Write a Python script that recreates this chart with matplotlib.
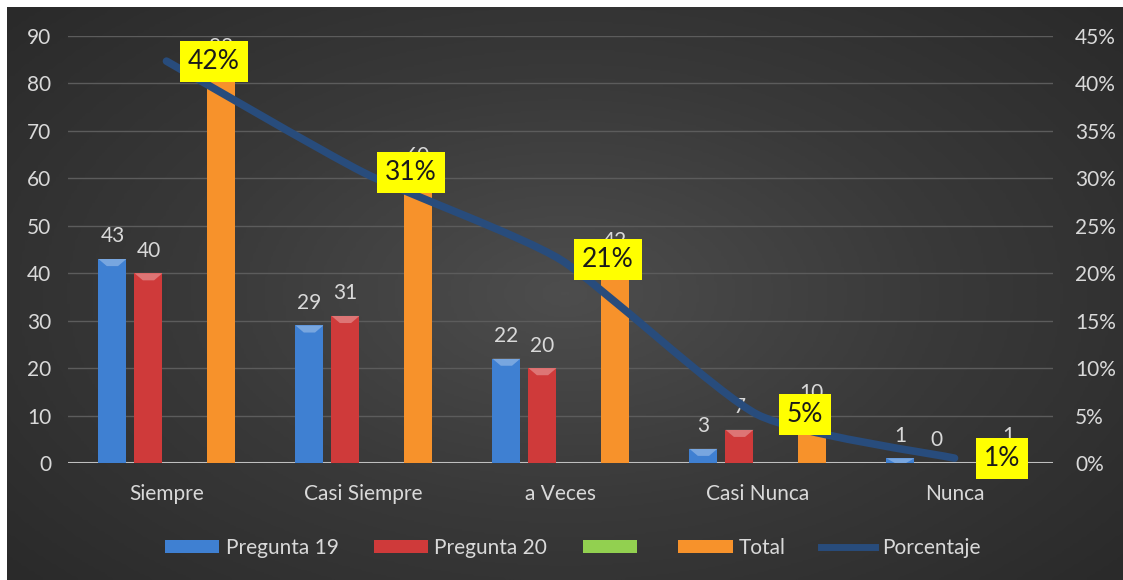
import numpy as np
import matplotlib
matplotlib.use("Agg")
import matplotlib.pyplot as plt
from matplotlib.patches import Patch, Polygon
from matplotlib.lines import Line2D
from matplotlib.path import Path
from matplotlib.patches import PathPatch

plt.rcParams['font.family'] = ['Lato', 'DejaVu Sans']

categories = ["Siempre", "Casi Siempre", "a Veces", "Casi Nunca", "Nunca"]
pregunta_19 = [43, 29, 22, 3, 1]
pregunta_20 = [40, 31, 20, 7, 0]
total = [83, 60, 42, 10, 1]
porcentaje = [0.4235, 0.3061, 0.2143, 0.0510, 0.0051]
porcentaje_labels = ["42%", "31%", "21%", "5%", "1%"]
left_ticks = [0, 10, 20, 30, 40, 50, 60, 70, 80, 90]
right_ticks = [0, 0.05, 0.10, 0.15, 0.20, 0.25, 0.30, 0.35, 0.40, 0.45]

text_col = "#d9d9d9"
blue = "#3f80d2"
red = "#cf3a3a"
green = "#92d050"
orange = "#f7922b"
line_col = "#284c7c"

fig = plt.figure(figsize=(11.23, 5.8), dpi=100)
fig.patch.set_facecolor("white")

# dark radial background
bg = fig.add_axes([7 / 1123, 0, 1 - 7 / 1123, 1 - 7 / 580])
gx, gy = np.meshgrid(np.linspace(-1, 1, 400), np.linspace(-1, 1, 200))
r = np.sqrt((gx * 0.9) ** 2 + (gy * 0.8) ** 2)
bg.imshow(r, cmap=matplotlib.colors.LinearSegmentedColormap.from_list(
    "bg", ["#4d4d4d", "#393939", "#2a2a2a"]), aspect="auto", extent=[0, 1, 0, 1])
bg.set_axis_off()

ax = fig.add_axes([68 / 1123, 1 - 463 / 580, (1053 - 68) / 1123, (463 - 36) / 580])
ax.set_facecolor("none")
x = np.arange(len(categories))
w = 0.142
step = 0.183


def draw_bars(offset, values, color):
    bars = ax.bar(x + offset, values, w, color=color, zorder=3)
    for b, v in zip(bars, values):
        # little bevel on the top of each bar
        if v > 0:
            bx, bw = b.get_x(), b.get_width()
            cap = min(1.5, v)
            ax.add_patch(Polygon([[bx, v], [bx + bw, v], [bx + bw * 0.7, v - cap],
                                  [bx + bw * 0.3, v - cap]], closed=True,
                                 facecolor="white", alpha=0.3, lw=0, zorder=4))
        ax.annotate(str(v), (b.get_x() + b.get_width() / 2, v), xytext=(0, 9),
                    textcoords="offset points", ha="center", va="bottom",
                    color=text_col, fontsize=15, zorder=5)
    return bars


draw_bars(-1.5 * step, pregunta_19, blue)
draw_bars(-0.5 * step, pregunta_20, red)
draw_bars(1.5 * step, total, orange)

ax.set_xlim(-0.5, 4.5)
ax.set_ylim(0, 90)
ax.set_yticks(left_ticks)
ax.set_xticks(x)
ax.set_xticklabels(categories)
ax.tick_params(axis="y", length=0, pad=12, labelsize=15, labelcolor=text_col)
ax.tick_params(axis="x", length=0, pad=15, labelsize=15, labelcolor=text_col)
ax.grid(axis="y", color="#5c5c5c", lw=1, zorder=0)
for s in ax.spines.values():
    s.set_visible(False)
ax.axhline(0, color="#bfbfbf", lw=1.5, zorder=2)

ax2 = ax.twinx()
ax2.set_ylim(0, 0.45)
ax2.set_yticks(right_ticks)
ax2.set_yticklabels([f"{int(round(t * 100))}%" for t in right_ticks])
ax2.tick_params(axis="y", length=0, pad=16, labelsize=15, labelcolor=text_col)
for s in ax2.spines.values():
    s.set_visible(False)

# smoothed line through the percentage points (bezier between data points)
pts = np.column_stack([x, porcentaje])
verts = [tuple(pts[0])]
codes = [Path.MOVETO]
for i in range(len(pts) - 1):
    p0 = pts[max(i - 1, 0)]
    p1 = pts[i]
    p2 = pts[i + 1]
    p3 = pts[min(i + 2, len(pts) - 1)]
    c1 = p1 + (p2 - p0) / 10
    c2 = p2 - (p3 - p1) / 10
    verts += [tuple(c1), tuple(c2), tuple(p2)]
    codes += [Path.CURVE4] * 3
ax2.add_patch(PathPatch(Path(verts, codes), facecolor="none", edgecolor=line_col,
                        lw=5.5, capstyle="round", zorder=6))

for xi, p, lab in zip(x, porcentaje, porcentaje_labels):
    ax2.annotate(lab, (xi, p), xytext=(34, 0), textcoords="offset points",
                 ha="center", va="center", fontsize=19, color="#1a1a1a", zorder=8,
                 bbox=dict(boxstyle="square,pad=0.3", fc="#ffff00", ec="none"))

handles = [Patch(facecolor=blue), Patch(facecolor=red), Patch(facecolor=green),
           Patch(facecolor=orange), Line2D([], [], color=line_col, lw=5)]
labels = ["Pregunta 19", "Pregunta 20", "", "Total", "Porcentaje"]
fig.legend(handles, labels, loc="center", bbox_to_anchor=(0.51, 1 - 548 / 580),
           ncol=5, frameon=False, fontsize=15, labelcolor=text_col,
           handlelength=2.6, handleheight=0.6, handletextpad=0.3, columnspacing=1.7)

fig.savefig("out.png", dpi=100)
